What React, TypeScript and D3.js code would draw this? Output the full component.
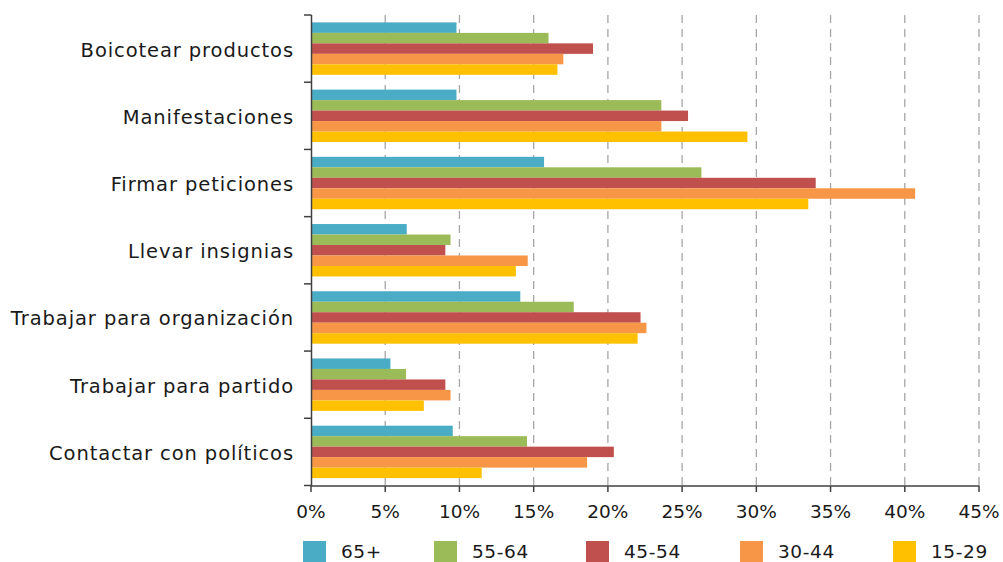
import React from "react";
import * as d3 from "d3";

const categories = [
  "Boicotear productos",
  "Manifestaciones",
  "Firmar peticiones",
  "Llevar insignias",
  "Trabajar para organización",
  "Trabajar para partido",
  "Contactar con políticos",
];
const seriesNames = ["65+", "55-64", "45-54", "30-44", "15-29"];
const s65 = [9.8, 9.8, 15.7, 6.45, 14.1, 5.35, 9.55];
const s55 = [16.0, 23.6, 26.3, 9.4, 17.7, 6.4, 14.55];
const s45 = [19.0, 25.4, 34.0, 9.05, 22.2, 9.05, 20.4];
const s30 = [17.0, 23.6, 40.7, 14.6, 22.6, 9.4, 18.6];
const s15 = [16.6, 29.4, 33.5, 13.8, 22.0, 7.6, 11.5];
const seriesValues = [s65, s55, s45, s30, s15];
const colors = ["#4BACC6", "#9BBB59", "#C0504D", "#F79646", "#FFC000"];
const xTicks = [0, 5, 10, 15, 20, 25, 30, 35, 40, 45];

export default function App() {
  const W = 1003, H = 562;
  const x = d3.scaleLinear().domain([0, 45]).range([311, 979]);
  const y = d3.scaleBand<string>().domain(categories).range([15, 485.5]).padding(0);
  const bw = y.bandwidth();
  const inner = d3.scaleBand<string>().domain(seriesNames).range([bw * 0.11, bw * 0.89]).padding(0);
  const font = "'DejaVu Sans', sans-serif";
  const axisColor = "#404040";
  const legendX = [303, 434, 586, 740, 893];
  return (
    <svg width={W} height={H} style={{ position: "absolute", left: 0, top: 0, background: "#fff" }}>
      {xTicks.slice(1).map((t) => (
        <line key={"g" + t} x1={x(t)} x2={x(t)} y1={15} y2={485.5} stroke="#a6a6a6" strokeWidth={1.3} strokeDasharray="8,6" />
      ))}
      {categories.map((c, ci) => (
        <g key={c} transform={`translate(0,${y(c)})`}>
          {seriesNames.map((s, si) => (
            <rect
              key={s}
              x={x(0)}
              y={inner(s)}
              width={x(seriesValues[si][ci]) - x(0)}
              height={inner.bandwidth()}
              fill={colors[si]}
            />
          ))}
        </g>
      ))}
      <line x1={311.5} x2={311.5} y1={15} y2={486} stroke={axisColor} strokeWidth={1.5} />
      {[...categories.map((c) => y(c)!), 485.5].map((v, i) => (
        <line key={"yt" + i} x1={304} x2={311.5} y1={v} y2={v} stroke={axisColor} strokeWidth={1.5} />
      ))}
      {categories.map((c) => (
        <text key={"yl" + c} x={294} y={y(c)! + bw / 2 + 1.5} textAnchor="end" dominantBaseline="central" fontFamily={font} fontSize={19.5} letterSpacing={0.9} fill="#1a1a1a">
          {c}
        </text>
      ))}
      <line x1={311} x2={979.5} y1={486} y2={486} stroke={axisColor} strokeWidth={1.5} />
      {xTicks.map((t) => (
        <g key={"xt" + t}>
          <line x1={x(t)} x2={x(t)} y1={486} y2={492} stroke={axisColor} strokeWidth={1.5} />
          <text x={x(t)} y={518} textAnchor="middle" fontFamily={font} fontSize={18.5} fill="#1a1a1a">
            {t + "%"}
          </text>
        </g>
      ))}
      {seriesNames.map((s, i) => (
        <g key={"lg" + s}>
          <rect x={legendX[i]} y={541} width={23} height={21} fill={colors[i]} />
          <text x={legendX[i] + 38} y={558} fontFamily={font} fontSize={18.5} letterSpacing={0.6} fill="#1a1a1a">
            {s}
          </text>
        </g>
      ))}
    </svg>
  );
}
